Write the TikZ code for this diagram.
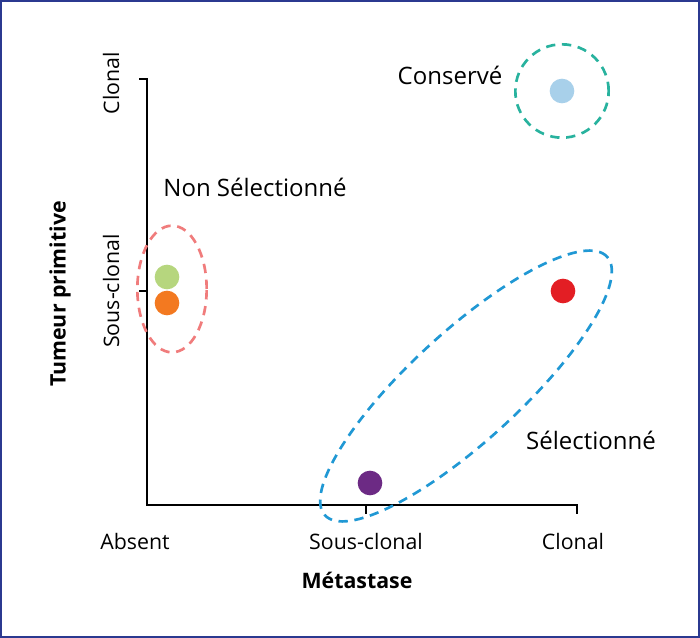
\documentclass[tikz,border=0pt]{standalone}
\usepackage{fontspec}
\setmainfont{Open Sans}
\usepackage{tikz}
\usetikzlibrary{shapes.geometric}
\definecolor{frameblue}{RGB}{43,57,144}
\definecolor{ringteal}{RGB}{40,178,158}
\definecolor{ringpink}{RGB}{240,124,124}
\definecolor{ringblue}{RGB}{32,152,212}
\definecolor{dotlight}{RGB}{168,208,234}
\definecolor{dotgreen}{RGB}{182,214,126}
\definecolor{dotorange}{RGB}{243,121,32}
\definecolor{dotred}{RGB}{227,30,36}
\definecolor{dotpurple}{RGB}{108,42,132}

\begin{document}
\begin{tikzpicture}[%
    x=0.75pt, y=-0.75pt,
    dot/.style={
      circle,
      inner sep=0pt,
      minimum size=18.5pt
    },
    ring/.style={
      dashed,
      dash pattern=on 7pt off 5pt,
      line width=2pt,
      inner sep=0pt
    },
    lbl/.style={
      font=\fontsize{16}{19}\selectfont,
      inner sep=0pt
    },
    grplbl/.style={
      font=\fontsize{18}{21}\selectfont,
      inner sep=0pt
    },
    axlbl/.style={
      font=\fontsize{16}{19}\selectfont\bfseries,
      inner sep=0pt
    },
    axis/.style={
      line width=1.1pt
    }
    ]
    \useasboundingbox (0,0) rectangle (700,638);
    \draw[frameblue, line width=1.5pt] (1,1) rectangle (699,637);

    % axes
    \coordinate (top) at (147,79);
    \coordinate (orig) at (147,505);
    \coordinate (xend) at (577,505);
    \draw[axis] (139,79) -- (top) -- (orig) -- (xend) -- ++(0,9);
    \draw[axis] (139,291) -- (147,291);
    \draw[axis] (366,505) -- ++(0,9);

    % axis labels
    \draw (111,83) node[lbl, rotate=90] (yclonal) {Clonal};
    \draw (111,291) node[lbl, rotate=90] (ysous) {Sous-clonal};
    \draw (60,294) node[axlbl, rotate=90] (ytitle) {Tumeur primitive};
    \draw (135,541) node[lbl] (xabsent) {Absent};
    \draw (366,541) node[lbl] (xsous) {Sous-clonal};
    \draw (573,541) node[lbl] (xclonal) {Clonal};
    \draw (357,580) node[axlbl] (xtitle) {Métastase};

    % groups
    \draw (562,91) node[dot, fill=dotlight] (conserve) {};
    \draw (562,91) node[ring, draw=ringteal, circle, minimum size=70pt] (conservering) {};
    \draw (450,75) node[grplbl] (conservetxt) {Conservé};

    \draw (167,277) node[dot, fill=dotgreen] (nonsel1) {};
    \draw (167,303) node[dot, fill=dotorange] (nonsel2) {};
    \draw (172,289) node[ring, draw=ringpink, ellipse, minimum width=52pt, minimum height=95pt] (nonselring) {};
    \draw (255,187) node[grplbl] (nonseltxt) {Non Sélectionné};

    \draw (563,291) node[dot, fill=dotred] (sel1) {};
    \draw (370,483) node[dot, fill=dotpurple] (sel2) {};
    \draw (466,386) node[ring, draw=ringblue, ellipse, minimum width=287pt, minimum height=82pt, rotate=42.5] (selring) {};
    \draw (591,440) node[grplbl] (seltxt) {Sélectionné};
  \end{tikzpicture}
\end{document}
